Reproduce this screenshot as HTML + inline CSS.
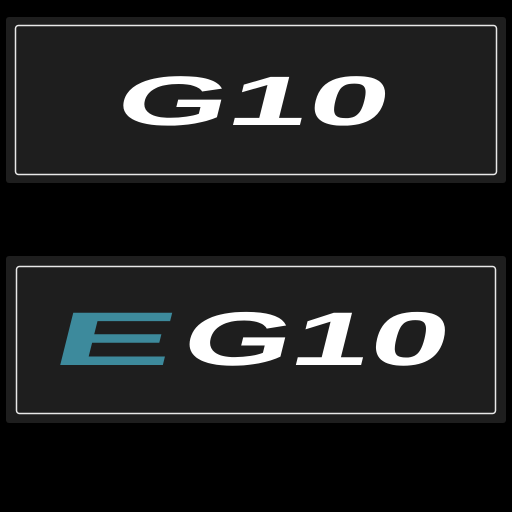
<!DOCTYPE html>
<html><head><meta charset="utf-8"><style>
html,body{margin:0;padding:0;background:#000;width:512px;height:512px;overflow:hidden}
</style></head><body>
<svg width="512" height="512" viewBox="0 0 512 512">
<rect width="512" height="512" fill="#000"/>
<g>
<rect x="6" y="17" width="500" height="166" rx="3" fill="#1e1e1e"/>
<rect x="15.5" y="25.5" width="481" height="149" rx="3" fill="none" stroke="#e8e8e8" stroke-width="1.5"/>
<text transform="translate(0,125) skewX(-14)" x="112" y="0" font-family="Liberation Sans, sans-serif" font-weight="bold" font-size="70" fill="#fff" textLength="272" lengthAdjust="spacingAndGlyphs">G10</text>
</g>
<g>
<rect x="6" y="256" width="500" height="167" rx="3" fill="#1e1e1e"/>
<rect x="16.5" y="266.5" width="479" height="147" rx="3" fill="none" stroke="#e8e8e8" stroke-width="1.5"/>
<text transform="translate(0,365) skewX(-14)" x="48" y="0" font-family="Liberation Sans, sans-serif" font-weight="bold" font-size="76" fill="#3d8a9c" textLength="122" lengthAdjust="spacingAndGlyphs">E</text>
<text transform="translate(0,365) skewX(-14)" x="178" y="0" font-family="Liberation Sans, sans-serif" font-weight="bold" font-size="76" fill="#fff" textLength="265" lengthAdjust="spacingAndGlyphs">G10</text>
</g>
</svg>
</body></html>
